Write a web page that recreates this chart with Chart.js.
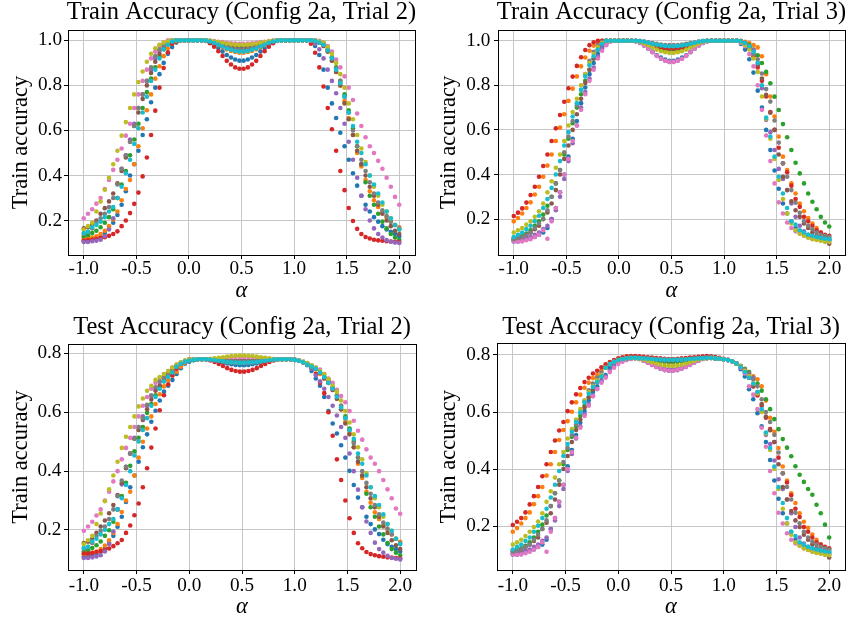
<!DOCTYPE html>
<html lang="en">
<head>
<meta charset="UTF-8">
<title>Train / Test accuracy vs alpha</title>
<script src="https://cdn.jsdelivr.net/npm/chart.js"></script>
<style>
  body { margin: 0; background: #fff; }
  #figure { position: relative; width: 852px; height: 620px; }
  #figure canvas { position: absolute; }
</style>
</head>
<body>
<div id="figure">
  <canvas id="c1" width="426" height="310" style="left:0;top:0"></canvas>
  <canvas id="c2" width="426" height="310" style="left:426px;top:0"></canvas>
  <canvas id="c3" width="426" height="310" style="left:0;top:310px"></canvas>
  <canvas id="c4" width="426" height="310" style="left:426px;top:310px"></canvas>
</div>
<script>
// alpha grid shared by every series
const alphas = [-1,-0.96,-0.92,-0.88,-0.84,-0.8,-0.76,-0.72,-0.68,-0.64,-0.6,-0.56,-0.52,-0.48,-0.44,-0.4,-0.36,-0.32,-0.28,-0.24,-0.2,-0.16,-0.12,-0.08,-0.04,
  0,0.04,0.08,0.12,0.16,0.2,0.24,0.28,0.32,0.36,0.4,0.44,0.48,0.52,0.56,0.6,0.64,0.68,0.72,0.76,0.8,0.84,0.88,0.92,0.96,
  1,1.04,1.08,1.12,1.16,1.2,1.24,1.28,1.32,1.36,1.4,1.44,1.48,1.52,1.56,1.6,1.64,1.68,1.72,1.76,1.8,1.84,1.88,1.92,1.96,2];

const xTicks = [-1, -0.5, 0, 0.5, 1, 1.5, 2];
const trainTicks = [0.2, 0.4, 0.6, 0.8, 1.0];
const testTicks = [0.2, 0.4, 0.6, 0.8];

// ---- Train accuracy, trial 2 ----
const train2Blue = [0.11,0.11,0.115,0.12,0.13,0.145,0.165,0.19,0.225,0.27,0.33,0.4,0.45,0.51,0.58,0.65,0.725,0.79,0.85,0.9,0.94,0.97,0.99,0.998,1,
  1,1,1,1,0.998,0.991,0.98,0.966,0.951,0.935,0.924,0.915,0.91,0.91,0.915,0.924,0.935,0.951,0.966,0.98,0.991,0.998,1,1,1,1,1,1,1,
  0.995,0.975,0.935,0.87,0.79,0.72,0.655,0.59,0.53,0.47,0.41,0.355,0.31,0.27,0.24,0.215,0.195,0.175,0.16,0.15,0.14,0.13];
const train2Orange = [0.12,0.122,0.125,0.13,0.14,0.155,0.175,0.205,0.24,0.29,0.34,0.38,0.45,0.53,0.61,0.69,0.76,0.83,0.885,0.93,0.965,0.985,0.995,1,1,
  1,1,1,1,0.999,0.995,0.988,0.979,0.97,0.96,0.953,0.948,0.945,0.945,0.948,0.953,0.96,0.97,0.979,0.988,0.995,0.999,1,1,1,1,1,1,1,
  1,0.998,0.99,0.975,0.95,0.91,0.86,0.8,0.73,0.655,0.58,0.5,0.44,0.38,0.33,0.29,0.26,0.235,0.215,0.195,0.18,0.17];
const train2Green = [0.13,0.135,0.145,0.155,0.17,0.19,0.215,0.25,0.3,0.36,0.42,0.49,0.56,0.63,0.7,0.77,0.83,0.88,0.93,0.96,0.985,0.995,1,1,1,
  1,1,1,1,0.999,0.997,0.993,0.989,0.984,0.978,0.975,0.972,0.97,0.97,0.972,0.975,0.978,0.984,0.989,0.993,0.997,0.999,1,1,1,1,1,1,1,
  1,0.998,0.99,0.98,0.96,0.925,0.88,0.82,0.76,0.69,0.61,0.53,0.45,0.37,0.31,0.27,0.23,0.195,0.165,0.14,0.125,0.115];
const train2Red = [0.11,0.112,0.115,0.118,0.122,0.126,0.132,0.14,0.152,0.175,0.2,0.233,0.274,0.324,0.396,0.48,0.58,0.688,0.79,0.877,0.947,0.985,0.995,1,1,
  1,1,1,1,0.997,0.987,0.972,0.952,0.931,0.909,0.893,0.88,0.874,0.874,0.88,0.893,0.909,0.931,0.952,0.972,0.987,0.997,1,1,1,1,1,1,1,
  0.985,0.945,0.88,0.795,0.7,0.605,0.51,0.42,0.335,0.256,0.198,0.163,0.14,0.127,0.12,0.115,0.112,0.11,0.108,0.107,0.106,0.105];
const train2Purple = [0.105,0.105,0.108,0.11,0.115,0.13,0.16,0.21,0.3,0.43,0.49,0.56,0.63,0.7,0.76,0.82,0.87,0.92,0.955,0.975,0.99,0.997,1,1,1,
  1,1,1,1,0.999,0.996,0.99,0.983,0.975,0.968,0.962,0.957,0.955,0.955,0.957,0.962,0.968,0.975,0.983,0.99,0.996,0.999,1,1,1,1,1,1,1,
  0.998,0.985,0.96,0.92,0.87,0.82,0.765,0.7,0.63,0.55,0.47,0.39,0.31,0.25,0.2,0.165,0.14,0.125,0.113,0.106,0.102,0.1];
const train2Brown = [0.165,0.17,0.18,0.2,0.23,0.255,0.285,0.32,0.365,0.42,0.48,0.55,0.62,0.68,0.74,0.8,0.855,0.905,0.94,0.97,0.985,0.995,1,1,1,
  1,1,1,1,0.999,0.997,0.992,0.987,0.981,0.975,0.97,0.967,0.965,0.965,0.967,0.97,0.975,0.981,0.987,0.992,0.997,0.999,1,1,1,1,1,1,1,
  1,0.998,0.99,0.975,0.95,0.91,0.86,0.8,0.72,0.65,0.58,0.51,0.45,0.4,0.35,0.31,0.27,0.23,0.2,0.175,0.155,0.14];
const train2Pink = [0.21,0.23,0.25,0.275,0.3,0.34,0.38,0.425,0.47,0.52,0.577,0.63,0.7,0.76,0.82,0.87,0.92,0.95,0.975,0.99,1,1,1,1,1,
  1,1,1,1,1,0.999,0.997,0.994,0.992,0.989,0.987,0.986,0.985,0.985,0.986,0.987,0.989,0.992,0.994,0.997,0.999,1,1,1,1,1,1,1,1,
  1,1,0.998,0.99,0.975,0.95,0.915,0.88,0.84,0.79,0.735,0.675,0.62,0.57,0.53,0.5,0.465,0.43,0.39,0.35,0.305,0.27];
const train2Gray = [0.14,0.15,0.165,0.19,0.21,0.23,0.26,0.3,0.36,0.43,0.49,0.55,0.62,0.7,0.76,0.82,0.88,0.93,0.96,0.98,0.993,1,1,1,1,
  1,1,1,1,0.999,0.996,0.991,0.985,0.978,0.971,0.966,0.962,0.96,0.96,0.962,0.966,0.971,0.978,0.985,0.991,0.996,0.999,1,1,1,1,1,1,1,
  1,0.998,0.99,0.98,0.96,0.925,0.875,0.82,0.75,0.68,0.6,0.53,0.47,0.42,0.37,0.32,0.28,0.245,0.22,0.195,0.18,0.165];
const train2Olive = [0.16,0.175,0.19,0.24,0.284,0.337,0.39,0.45,0.51,0.577,0.637,0.7,0.76,0.815,0.862,0.905,0.94,0.965,0.98,0.99,0.996,1,1,1,1,
  1,1,1,1,1,0.998,0.996,0.992,0.989,0.986,0.983,0.981,0.98,0.98,0.981,0.983,0.986,0.989,0.992,0.996,0.998,1,1,1,1,1,1,1,1,
  1,1,0.995,0.99,0.97,0.94,0.9,0.85,0.79,0.72,0.65,0.58,0.52,0.46,0.4,0.35,0.31,0.27,0.24,0.21,0.18,0.16];
const train2Cyan = [0.145,0.15,0.17,0.18,0.195,0.215,0.24,0.26,0.3,0.35,0.41,0.47,0.54,0.61,0.68,0.75,0.82,0.87,0.92,0.96,0.98,0.995,1,1,1,
  1,1,1,1,0.999,0.995,0.989,0.981,0.973,0.964,0.958,0.953,0.95,0.95,0.953,0.958,0.964,0.973,0.981,0.989,0.995,0.999,1,1,1,1,1,1,1,
  1,0.998,0.99,0.98,0.955,0.92,0.87,0.81,0.75,0.68,0.62,0.55,0.5,0.45,0.4,0.36,0.32,0.28,0.24,0.21,0.18,0.16];

// ---- Train accuracy, trial 3 ----
const train3Blue = [0.1,0.1,0.105,0.11,0.115,0.12,0.13,0.14,0.16,0.2,0.25,0.32,0.4,0.48,0.56,0.64,0.72,0.79,0.85,0.9,0.94,0.97,0.99,1,1,
  1,1,1,1,0.998,0.991,0.98,0.966,0.951,0.935,0.924,0.915,0.91,0.91,0.915,0.924,0.935,0.951,0.966,0.98,0.991,0.998,1,1,1,1,1,1,1,
  0.985,0.96,0.917,0.857,0.776,0.7,0.6,0.51,0.418,0.336,0.27,0.225,0.19,0.16,0.145,0.135,0.128,0.122,0.118,0.115,0.112,0.11];
const train3Orange = [0.19,0.205,0.225,0.25,0.275,0.31,0.345,0.39,0.44,0.49,0.55,0.61,0.67,0.73,0.785,0.84,0.885,0.925,0.955,0.978,0.992,1,1,1,1,
  1,1,1,1,0.999,0.996,0.99,0.983,0.975,0.968,0.962,0.957,0.955,0.955,0.957,0.962,0.968,0.975,0.983,0.99,0.996,0.999,1,1,1,1,1,1,1,
  1,0.995,0.99,0.98,0.97,0.93,0.85,0.75,0.66,0.57,0.48,0.42,0.36,0.315,0.27,0.235,0.205,0.18,0.16,0.14,0.125,0.115];
const train3Green = [0.115,0.12,0.125,0.135,0.15,0.17,0.19,0.22,0.26,0.3,0.36,0.42,0.49,0.56,0.63,0.7,0.76,0.82,0.87,0.92,0.96,0.985,1,1,1,
  1,1,1,1,0.999,0.996,0.991,0.985,0.978,0.971,0.966,0.962,0.96,0.96,0.962,0.966,0.971,0.978,0.985,0.991,0.996,0.999,1,1,1,1,1,1,1,
  0.997,0.99,0.98,0.96,0.935,0.9,0.86,0.809,0.749,0.689,0.626,0.567,0.51,0.453,0.405,0.36,0.315,0.278,0.244,0.21,0.185,0.167];
const train3Red = [0.214,0.229,0.248,0.274,0.308,0.345,0.39,0.438,0.49,0.55,0.607,0.667,0.726,0.787,0.839,0.887,0.926,0.958,0.98,0.993,1,1,1,1,1,
  1,1,1,1,0.999,0.997,0.992,0.987,0.981,0.975,0.97,0.967,0.965,0.965,0.967,0.97,0.975,0.981,0.987,0.992,0.997,0.999,1,1,1,1,1,1,1,
  0.995,0.985,0.965,0.93,0.88,0.82,0.75,0.68,0.6,0.52,0.45,0.41,0.35,0.29,0.255,0.21,0.19,0.17,0.15,0.14,0.13,0.125];
const train3Purple = [0.105,0.105,0.11,0.115,0.12,0.13,0.14,0.155,0.17,0.2,0.24,0.3,0.38,0.46,0.54,0.62,0.7,0.77,0.83,0.88,0.93,0.965,0.985,1,1,
  1,1,1,1,0.998,0.99,0.979,0.964,0.948,0.932,0.919,0.91,0.905,0.905,0.91,0.919,0.932,0.948,0.964,0.979,0.99,0.998,1,1,1,1,1,1,1,
  0.995,0.985,0.975,0.958,0.9,0.787,0.645,0.59,0.51,0.425,0.38,0.33,0.27,0.21,0.17,0.145,0.13,0.12,0.113,0.108,0.105,0.105];
const train3Brown = [0.11,0.115,0.12,0.13,0.14,0.155,0.17,0.2,0.23,0.27,0.33,0.4,0.47,0.53,0.6,0.67,0.74,0.81,0.87,0.92,0.96,0.985,1,1,1,
  1,1,1,1,1,0.998,0.995,0.991,0.986,0.982,0.979,0.976,0.975,0.975,0.976,0.979,0.982,0.986,0.991,0.995,0.998,1,1,1,1,1,1,1,1,
  0.998,0.99,0.97,0.94,0.89,0.83,0.757,0.677,0.6,0.49,0.39,0.33,0.28,0.24,0.21,0.18,0.16,0.14,0.125,0.11,0.1,0.09];
const train3Pink = [0.1,0.1,0.1,0.105,0.11,0.12,0.13,0.15,0.112,0.19,0.25,0.32,0.4,0.47,0.55,0.62,0.69,0.76,0.82,0.87,0.92,0.955,0.98,0.995,1,
  1,1,1,1,0.998,0.99,0.979,0.964,0.948,0.932,0.919,0.91,0.905,0.905,0.91,0.919,0.932,0.948,0.964,0.979,0.99,0.998,1,1,1,1,1,1,1,
  0.99,0.975,0.94,0.885,0.8,0.69,0.575,0.46,0.36,0.275,0.225,0.185,0.16,0.145,0.135,0.125,0.118,0.112,0.108,0.105,0.102,0.1];
const train3Gray = [0.11,0.115,0.12,0.13,0.14,0.16,0.18,0.2,0.24,0.3,0.36,0.42,0.5,0.57,0.64,0.71,0.78,0.85,0.91,0.95,0.98,0.995,1,1,1,
  1,1,1,1,1,0.998,0.996,0.992,0.989,0.986,0.983,0.981,0.98,0.98,0.981,0.983,0.986,0.989,0.992,0.996,0.998,1,1,1,1,1,1,1,1,
  0.995,0.985,0.973,0.94,0.917,0.853,0.783,0.727,0.642,0.543,0.45,0.39,0.33,0.273,0.228,0.19,0.17,0.155,0.14,0.13,0.125,0.12];
const train3Olive = [0.14,0.15,0.16,0.175,0.19,0.21,0.235,0.27,0.32,0.37,0.43,0.49,0.55,0.62,0.68,0.74,0.8,0.85,0.9,0.94,0.97,0.99,1,1,1,
  1,1,1,1,0.999,0.995,0.988,0.979,0.97,0.96,0.953,0.948,0.945,0.945,0.948,0.953,0.96,0.97,0.979,0.988,0.995,0.999,1,1,1,1,1,1,1,
  0.995,0.98,0.96,0.92,0.86,0.75,0.65,0.56,0.47,0.375,0.29,0.225,0.18,0.15,0.135,0.125,0.117,0.11,0.106,0.103,0.1,0.098];
const train3Cyan = [0.12,0.13,0.14,0.155,0.17,0.19,0.215,0.25,0.29,0.34,0.4,0.46,0.53,0.59,0.66,0.72,0.78,0.84,0.89,0.93,0.96,0.985,1,1,1,
  1,1,1,1,1,0.998,0.995,0.991,0.986,0.982,0.979,0.976,0.975,0.975,0.976,0.979,0.982,0.986,0.991,0.995,0.998,1,1,1,1,1,1,1,1,
  0.998,0.99,0.975,0.95,0.9,0.8,0.655,0.57,0.48,0.39,0.315,0.25,0.19,0.175,0.15,0.14,0.13,0.125,0.12,0.115,0.112,0.11];

// ---- Test accuracy, trial 2 ----
const test2Blue = [0.11,0.11,0.114,0.118,0.127,0.139,0.156,0.18,0.211,0.245,0.295,0.345,0.385,0.432,0.481,0.525,0.568,0.605,0.64,0.67,0.69,0.71,0.73,0.75,0.765,
  0.772,0.777,0.78,0.78,0.78,0.778,0.776,0.772,0.769,0.766,0.763,0.761,0.76,0.76,0.761,0.763,0.766,0.769,0.772,0.776,0.778,0.78,0.78,0.78,0.78,0.778,0.775,0.77,0.76,
  0.74,0.715,0.69,0.652,0.604,0.562,0.528,0.488,0.446,0.401,0.353,0.31,0.277,0.245,0.22,0.202,0.186,0.167,0.152,0.143,0.135,0.127];
const test2Orange = [0.118,0.12,0.123,0.127,0.135,0.147,0.165,0.19,0.22,0.261,0.3,0.33,0.385,0.446,0.5,0.545,0.586,0.628,0.661,0.688,0.71,0.725,0.738,0.755,0.768,
  0.775,0.778,0.78,0.78,0.78,0.779,0.777,0.775,0.773,0.771,0.77,0.769,0.768,0.768,0.769,0.77,0.771,0.773,0.775,0.777,0.779,0.78,0.78,0.78,0.78,0.778,0.775,0.77,0.762,
  0.752,0.745,0.73,0.715,0.7,0.676,0.646,0.61,0.568,0.528,0.481,0.425,0.377,0.33,0.293,0.26,0.237,0.216,0.201,0.185,0.17,0.16];
const test2Green = [0.127,0.131,0.139,0.148,0.161,0.18,0.199,0.228,0.27,0.315,0.36,0.418,0.467,0.513,0.55,0.598,0.628,0.658,0.688,0.705,0.725,0.738,0.755,0.765,0.772,
  0.776,0.778,0.78,0.78,0.78,0.78,0.779,0.778,0.777,0.776,0.776,0.775,0.775,0.775,0.775,0.776,0.776,0.777,0.778,0.779,0.78,0.78,0.78,0.78,0.78,0.778,0.775,0.77,0.762,
  0.755,0.748,0.735,0.72,0.705,0.685,0.658,0.622,0.586,0.545,0.501,0.446,0.385,0.323,0.277,0.245,0.212,0.185,0.156,0.135,0.123,0.114];
const test2Red = [0.12,0.12,0.122,0.125,0.128,0.132,0.137,0.145,0.155,0.166,0.19,0.215,0.25,0.29,0.345,0.41,0.48,0.545,0.607,0.658,0.695,0.725,0.748,0.765,0.775,
  0.78,0.78,0.78,0.78,0.779,0.776,0.771,0.764,0.757,0.75,0.744,0.74,0.738,0.738,0.74,0.744,0.75,0.757,0.764,0.771,0.776,0.779,0.78,0.78,0.78,0.778,0.775,0.77,0.765,
  0.75,0.73,0.7,0.665,0.6,0.52,0.44,0.37,0.3,0.24,0.19,0.155,0.138,0.125,0.118,0.114,0.111,0.109,0.107,0.106,0.105,0.104];
const test2Purple = [0.105,0.105,0.107,0.11,0.114,0.127,0.152,0.195,0.27,0.355,0.415,0.46,0.513,0.55,0.586,0.622,0.655,0.68,0.703,0.718,0.73,0.742,0.755,0.765,0.772,
  0.776,0.778,0.78,0.78,0.78,0.779,0.778,0.777,0.776,0.774,0.773,0.772,0.772,0.772,0.772,0.773,0.774,0.776,0.777,0.778,0.779,0.78,0.78,0.78,0.78,0.778,0.775,0.77,0.762,
  0.748,0.725,0.705,0.68,0.652,0.622,0.589,0.55,0.513,0.46,0.4,0.337,0.277,0.229,0.19,0.157,0.135,0.123,0.112,0.105,0.102,0.1];
const test2Brown = [0.156,0.16,0.17,0.19,0.212,0.232,0.257,0.285,0.319,0.36,0.41,0.46,0.51,0.54,0.574,0.61,0.643,0.673,0.69,0.71,0.725,0.738,0.755,0.765,0.772,
  0.776,0.778,0.78,0.78,0.78,0.78,0.779,0.778,0.777,0.776,0.776,0.775,0.775,0.775,0.775,0.776,0.776,0.777,0.778,0.779,0.78,0.78,0.78,0.78,0.78,0.778,0.775,0.77,0.762,
  0.755,0.748,0.735,0.715,0.7,0.676,0.646,0.61,0.562,0.525,0.481,0.432,0.385,0.345,0.308,0.277,0.245,0.212,0.19,0.165,0.148,0.135];
const test2Pink = [0.197,0.212,0.228,0.249,0.27,0.3,0.33,0.365,0.4,0.44,0.479,0.513,0.55,0.586,0.622,0.652,0.68,0.7,0.717,0.73,0.74,0.752,0.762,0.77,0.775,
  0.778,0.78,0.78,0.78,0.78,0.781,0.782,0.783,0.784,0.786,0.787,0.788,0.788,0.788,0.788,0.787,0.786,0.784,0.783,0.782,0.781,0.78,0.78,0.78,0.78,0.778,0.776,0.772,0.767,
  0.76,0.752,0.745,0.73,0.715,0.7,0.676,0.655,0.634,0.604,0.571,0.537,0.507,0.474,0.446,0.425,0.4,0.37,0.338,0.308,0.273,0.255];
const test2Gray = [0.135,0.143,0.156,0.18,0.197,0.212,0.237,0.27,0.315,0.368,0.415,0.46,0.51,0.55,0.58,0.625,0.658,0.685,0.705,0.72,0.732,0.745,0.758,0.767,0.773,
  0.776,0.778,0.78,0.78,0.78,0.779,0.778,0.777,0.776,0.774,0.773,0.772,0.772,0.772,0.772,0.773,0.774,0.776,0.777,0.778,0.779,0.78,0.78,0.78,0.78,0.778,0.775,0.77,0.762,
  0.755,0.748,0.735,0.72,0.705,0.685,0.655,0.622,0.58,0.54,0.495,0.446,0.4,0.36,0.323,0.285,0.253,0.225,0.205,0.185,0.17,0.156];
const test2Olive = [0.152,0.165,0.18,0.22,0.256,0.298,0.338,0.385,0.432,0.479,0.517,0.55,0.586,0.62,0.647,0.673,0.69,0.71,0.72,0.73,0.74,0.752,0.762,0.77,0.776,
  0.779,0.78,0.78,0.78,0.78,0.781,0.783,0.785,0.787,0.789,0.791,0.792,0.793,0.793,0.792,0.791,0.789,0.787,0.785,0.783,0.781,0.78,0.78,0.78,0.78,0.778,0.776,0.772,0.767,
  0.76,0.752,0.74,0.73,0.713,0.69,0.67,0.64,0.604,0.565,0.525,0.481,0.44,0.393,0.345,0.308,0.277,0.245,0.22,0.197,0.17,0.152];
const test2Cyan = [0.139,0.143,0.161,0.17,0.185,0.201,0.22,0.237,0.27,0.308,0.353,0.4,0.453,0.501,0.54,0.58,0.622,0.652,0.68,0.705,0.72,0.735,0.755,0.765,0.772,
  0.776,0.778,0.78,0.78,0.78,0.779,0.777,0.775,0.773,0.771,0.77,0.769,0.768,0.768,0.769,0.77,0.771,0.773,0.775,0.777,0.779,0.78,0.78,0.78,0.78,0.778,0.775,0.77,0.762,
  0.755,0.748,0.735,0.72,0.7,0.68,0.652,0.616,0.58,0.54,0.51,0.46,0.425,0.385,0.345,0.315,0.285,0.253,0.22,0.197,0.17,0.152];

// ---- Test accuracy, trial 3 ----
const test3Blue = [0.1,0.1,0.105,0.11,0.114,0.118,0.127,0.135,0.152,0.19,0.228,0.285,0.345,0.41,0.467,0.519,0.562,0.604,0.64,0.67,0.69,0.71,0.73,0.755,0.768,
  0.778,0.783,0.786,0.788,0.789,0.786,0.78,0.773,0.765,0.758,0.752,0.747,0.745,0.745,0.747,0.752,0.758,0.765,0.773,0.78,0.786,0.789,0.79,0.788,0.787,0.785,0.782,0.778,0.77,
  0.75,0.725,0.68,0.645,0.596,0.55,0.495,0.432,0.36,0.296,0.245,0.209,0.18,0.152,0.139,0.131,0.125,0.12,0.116,0.113,0.111,0.109];
const test3Orange = [0.18,0.193,0.209,0.228,0.248,0.277,0.305,0.337,0.377,0.417,0.46,0.502,0.537,0.568,0.601,0.634,0.661,0.685,0.703,0.719,0.73,0.745,0.76,0.77,0.778,
  0.782,0.786,0.788,0.79,0.79,0.788,0.787,0.784,0.782,0.779,0.777,0.776,0.775,0.775,0.776,0.777,0.779,0.782,0.784,0.787,0.788,0.79,0.79,0.788,0.787,0.785,0.782,0.778,0.77,
  0.76,0.75,0.74,0.725,0.715,0.69,0.64,0.58,0.531,0.474,0.409,0.36,0.315,0.281,0.245,0.215,0.194,0.17,0.152,0.135,0.123,0.114];
const test3Green = [0.114,0.118,0.122,0.131,0.143,0.16,0.18,0.205,0.237,0.27,0.315,0.36,0.417,0.467,0.513,0.55,0.586,0.622,0.652,0.68,0.705,0.725,0.755,0.768,0.776,
  0.782,0.786,0.788,0.79,0.79,0.788,0.787,0.784,0.782,0.779,0.777,0.776,0.775,0.775,0.776,0.777,0.779,0.782,0.784,0.787,0.788,0.79,0.79,0.788,0.787,0.785,0.782,0.778,0.77,
  0.762,0.752,0.74,0.72,0.7,0.675,0.645,0.61,0.575,0.54,0.505,0.475,0.445,0.41,0.38,0.355,0.33,0.31,0.275,0.245,0.205,0.16];
const test3Red = [0.204,0.215,0.228,0.248,0.276,0.305,0.337,0.375,0.417,0.46,0.5,0.535,0.565,0.603,0.634,0.662,0.684,0.705,0.72,0.735,0.745,0.757,0.767,0.775,0.782,
  0.788,0.792,0.795,0.796,0.796,0.795,0.794,0.792,0.791,0.789,0.788,0.787,0.786,0.786,0.787,0.788,0.789,0.791,0.792,0.794,0.795,0.796,0.795,0.793,0.79,0.787,0.783,0.778,0.77,
  0.76,0.745,0.72,0.69,0.658,0.622,0.58,0.54,0.495,0.44,0.385,0.353,0.308,0.261,0.232,0.197,0.18,0.16,0.143,0.135,0.127,0.122];
const test3Purple = [0.105,0.105,0.11,0.114,0.118,0.127,0.135,0.148,0.16,0.19,0.22,0.27,0.33,0.393,0.453,0.507,0.55,0.592,0.628,0.658,0.682,0.708,0.724,0.745,0.76,
  0.772,0.78,0.785,0.788,0.789,0.786,0.781,0.775,0.768,0.761,0.756,0.752,0.75,0.75,0.752,0.756,0.761,0.768,0.775,0.781,0.786,0.789,0.79,0.788,0.787,0.785,0.782,0.778,0.77,
  0.76,0.745,0.735,0.72,0.67,0.602,0.52,0.488,0.43,0.364,0.33,0.293,0.245,0.197,0.16,0.139,0.127,0.118,0.112,0.107,0.104,0.104];
const test3Brown = [0.11,0.114,0.118,0.127,0.135,0.148,0.16,0.19,0.212,0.245,0.293,0.345,0.4,0.446,0.495,0.537,0.574,0.616,0.652,0.68,0.705,0.725,0.755,0.768,0.776,
  0.782,0.786,0.788,0.79,0.79,0.789,0.788,0.786,0.785,0.783,0.782,0.781,0.78,0.78,0.781,0.782,0.783,0.785,0.786,0.788,0.789,0.79,0.79,0.788,0.787,0.785,0.782,0.778,0.77,
  0.758,0.74,0.72,0.69,0.664,0.628,0.584,0.536,0.495,0.417,0.337,0.293,0.253,0.22,0.197,0.17,0.152,0.135,0.123,0.11,0.1,0.09];
const test3Pink = [0.1,0.1,0.1,0.105,0.11,0.118,0.127,0.143,0.11,0.18,0.228,0.285,0.345,0.4,0.46,0.51,0.545,0.586,0.622,0.655,0.68,0.703,0.72,0.74,0.755,
  0.768,0.776,0.782,0.786,0.789,0.786,0.78,0.773,0.765,0.758,0.752,0.747,0.745,0.745,0.747,0.752,0.758,0.765,0.773,0.78,0.786,0.789,0.79,0.788,0.787,0.785,0.782,0.778,0.77,
  0.755,0.735,0.69,0.661,0.61,0.545,0.478,0.393,0.315,0.247,0.209,0.175,0.152,0.139,0.131,0.122,0.116,0.111,0.107,0.105,0.102,0.1];
const test3Gray = [0.11,0.114,0.118,0.127,0.135,0.152,0.17,0.19,0.22,0.27,0.315,0.36,0.425,0.474,0.519,0.556,0.598,0.64,0.676,0.7,0.72,0.738,0.755,0.768,0.776,
  0.782,0.786,0.788,0.79,0.79,0.79,0.789,0.788,0.787,0.786,0.786,0.785,0.785,0.785,0.785,0.786,0.786,0.787,0.788,0.789,0.79,0.79,0.79,0.788,0.787,0.785,0.782,0.778,0.77,
  0.76,0.75,0.735,0.715,0.69,0.645,0.6,0.565,0.52,0.458,0.385,0.337,0.293,0.247,0.21,0.18,0.16,0.146,0.135,0.127,0.122,0.118];
const test3Olive = [0.135,0.143,0.152,0.165,0.18,0.197,0.216,0.245,0.285,0.322,0.37,0.417,0.46,0.507,0.54,0.574,0.61,0.64,0.67,0.69,0.71,0.73,0.755,0.768,0.776,
  0.782,0.786,0.788,0.79,0.789,0.787,0.784,0.779,0.775,0.77,0.766,0.763,0.762,0.762,0.763,0.766,0.77,0.775,0.779,0.784,0.787,0.789,0.79,0.788,0.787,0.785,0.782,0.778,0.77,
  0.76,0.745,0.725,0.7,0.665,0.6,0.525,0.467,0.4,0.33,0.261,0.209,0.17,0.143,0.131,0.122,0.116,0.11,0.106,0.103,0.1,0.098];
const test3Cyan = [0.118,0.127,0.135,0.148,0.16,0.18,0.201,0.228,0.261,0.3,0.345,0.393,0.446,0.488,0.531,0.565,0.598,0.634,0.664,0.688,0.705,0.725,0.755,0.768,0.776,
  0.782,0.786,0.788,0.79,0.79,0.789,0.788,0.787,0.786,0.784,0.783,0.782,0.782,0.782,0.782,0.783,0.784,0.786,0.787,0.788,0.789,0.79,0.79,0.788,0.787,0.785,0.782,0.778,0.77,
  0.758,0.74,0.72,0.7,0.67,0.61,0.528,0.474,0.409,0.337,0.281,0.228,0.18,0.165,0.143,0.135,0.127,0.122,0.118,0.114,0.111,0.109];

// matplotlib tab10, in plotting order
const tab10 = ['#1f77b4', '#ff7f0e', '#2ca02c', '#d62728', '#9467bd', '#8c564b', '#e377c2', '#7f7f7f', '#bcbd22', '#17becf'];
const serif = "'Liberation Serif', 'Times New Roman', serif";

const panels = [
  { id: 'c1', title: 'Train Accuracy (Config 2a, Trial 2)', yTicks: trainTicks, yMin: 0.047, yMax: 1.046,
    series: [train2Blue, train2Orange, train2Green, train2Red, train2Purple, train2Brown, train2Pink, train2Gray, train2Olive, train2Cyan],
    yAxisWidth: 68, padRight: 11, padTop: 30, titleY: 13, xAxisHeight: 55, xTickPad: 0, xTitlePad: 8, yTickPad: 2, yTitlePad: 9.75 },
  { id: 'c2', title: 'Train Accuracy (Config 2a, Trial 3)', yTicks: trainTicks, yMin: 0.039, yMax: 1.048,
    series: [train3Blue, train3Orange, train3Green, train3Red, train3Purple, train3Brown, train3Pink, train3Gray, train3Olive, train3Cyan],
    yAxisWidth: 72, padRight: 7, padTop: 30, titleY: 13, xAxisHeight: 55, xTickPad: 0, xTitlePad: 8, yTickPad: 3.7, yTitlePad: 11.5 },
  { id: 'c3', title: 'Test Accuracy (Config 2a, Trial 2)', yTicks: testTicks, yMin: 0.064, yMax: 0.832,
    series: [test2Blue, test2Orange, test2Green, test2Red, test2Purple, test2Brown, test2Pink, test2Gray, test2Olive, test2Cyan],
    yAxisWidth: 68, padRight: 10, padTop: 34, titleY: 17.3, xAxisHeight: 50, xTickPad: 2.6, xTitlePad: 1.4, yTickPad: 2.6, yTitlePad: 9.75 },
  { id: 'c4', title: 'Test Accuracy (Config 2a, Trial 3)', yTicks: testTicks, yMin: 0.046, yMax: 0.841,
    series: [test3Blue, test3Orange, test3Green, test3Red, test3Purple, test3Brown, test3Pink, test3Gray, test3Olive, test3Cyan],
    yAxisWidth: 71, padRight: 7, padTop: 33.3, titleY: 17.3, xAxisHeight: 50, xTickPad: 2.6, xTitlePad: 1.4, yTickPad: 2.7, yTitlePad: 11.5 }
];

// full box around the axes, like matplotlib spines
const framePlugin = {
  id: 'frame',
  afterDatasetsDraw(chart) {
    const { ctx, chartArea: a } = chart;
    ctx.save();
    ctx.strokeStyle = '#000';
    ctx.lineWidth = 1;
    ctx.strokeRect(Math.round(a.left) + 0.5, Math.round(a.top) + 0.5, Math.round(a.right - a.left), Math.round(a.bottom - a.top));
    ctx.restore();
  }
};

// title centred over the axes box rather than the whole canvas
const panelTitle = {
  id: 'panelTitle',
  afterDraw(chart, args, opts) {
    const { ctx, chartArea: a } = chart;
    ctx.save();
    ctx.font = '24.5px ' + serif;
    ctx.fillStyle = '#000';
    ctx.textAlign = 'center';
    ctx.textBaseline = 'middle';
    ctx.fillText(opts.text, (a.left + a.right) / 2, opts.y);
    ctx.restore();
  }
};

function drawPanel(p) {
  const datasets = p.series.map((vals, k) => ({
    data: alphas.map((a, j) => ({ x: a, y: vals[j] })),
    pointBackgroundColor: tab10[k],
    pointBorderWidth: 0,
    pointRadius: 2.3,
    pointHoverRadius: 2.3,
    order: p.series.length - k   // later series drawn on top
  }));

  const gridOpts = { color: '#c6c6c6', lineWidth: 1, tickLength: 4, tickColor: '#000' };
  const tickFont = { family: serif, size: 19.2, lineHeight: 1 };
  const labelFont = { family: serif, size: 22.5, lineHeight: 1 };

  new Chart(document.getElementById(p.id), {
    type: 'scatter',
    data: { datasets },
    options: {
      responsive: false,
      animation: false,
      devicePixelRatio: 1,
      events: [],
      layout: { padding: { left: 0, right: p.padRight, top: p.padTop, bottom: 0 } },
      plugins: {
        legend: { display: false },
        tooltip: { enabled: false },
        title: { display: false },
        panelTitle: { text: p.title, y: p.titleY }
      },
      scales: {
        x: {
          type: 'linear', min: -1.15, max: 2.15,
          afterBuildTicks: s => { s.ticks = xTicks.map(v => ({ value: v })); },
          afterFit: s => { s.height = p.xAxisHeight; },
          ticks: { callback: v => v.toFixed(1), color: '#000', font: tickFont, padding: p.xTickPad, maxRotation: 0, autoSkip: false },
          grid: gridOpts,
          border: { display: false },
          title: { display: true, text: 'α', color: '#000', font: { ...labelFont, style: 'italic' }, padding: { top: 0, bottom: p.xTitlePad } }
        },
        y: {
          type: 'linear', min: p.yMin, max: p.yMax,
          afterBuildTicks: s => { s.ticks = p.yTicks.map(v => ({ value: v })); },
          afterFit: s => { s.width = p.yAxisWidth; },
          ticks: { callback: v => v.toFixed(1), color: '#000', font: tickFont, padding: p.yTickPad, autoSkip: false },
          grid: gridOpts,
          border: { display: false },
          title: { display: true, text: 'Train accuracy', color: '#000', font: labelFont, padding: { top: p.yTitlePad, bottom: 0 } }
        }
      }
    },
    plugins: [framePlugin, panelTitle]
  });
}

panels.forEach(drawPanel);
</script>
</body>
</html>
